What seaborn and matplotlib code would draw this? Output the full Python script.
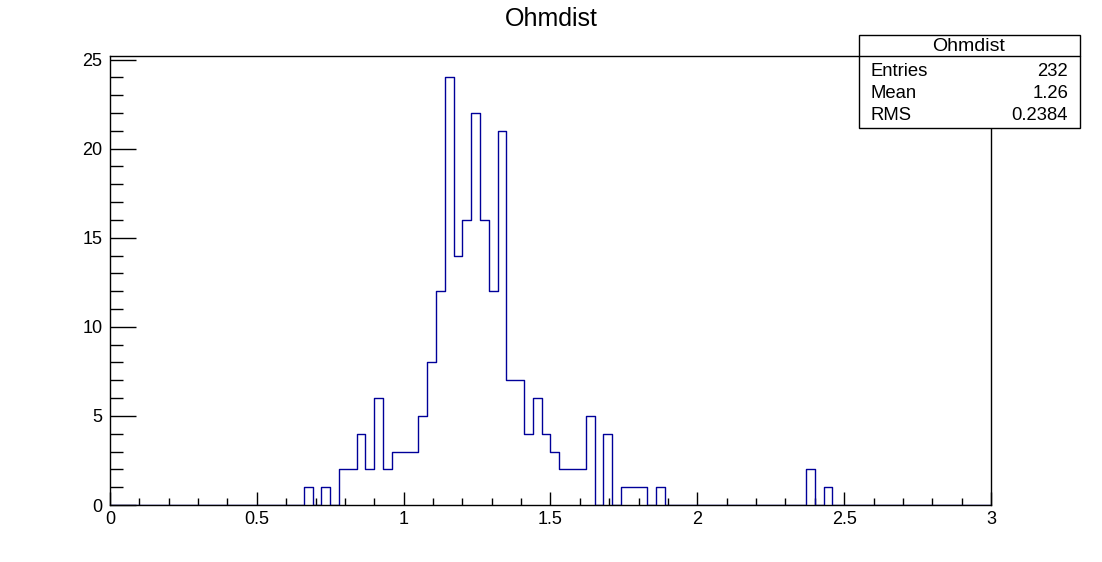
import numpy as np
import pandas as pd
import matplotlib
matplotlib.use("Agg")
import matplotlib.pyplot as plt
from matplotlib.patches import Rectangle
from matplotlib.lines import Line2D
from matplotlib.ticker import MultipleLocator, FuncFormatter
import seaborn as sns

# ---- data ----
title = "Ohmdist"
x_min, x_max, n_bins = 0.0, 3.0, 100
y_max = 25.2
bin_low = [0.66, 0.72, 0.78, 0.81, 0.84, 0.87, 0.90, 0.93, 0.96, 0.99,
           1.02, 1.05, 1.08, 1.11, 1.14, 1.17, 1.20, 1.23, 1.26, 1.29,
           1.32, 1.35, 1.38, 1.41, 1.44, 1.47, 1.50, 1.53, 1.56, 1.59,
           1.62, 1.68, 1.74, 1.77, 1.80, 1.86, 2.37, 2.43]
counts = [1, 1, 2, 2, 4, 2, 6, 2, 3, 3,
          3, 5, 8, 12, 24, 14, 16, 22, 16, 12,
          21, 7, 7, 4, 6, 4, 3, 2, 2, 2,
          5, 4, 1, 1, 1, 1, 2, 1]
stat_names = ["Entries", "Mean", "RMS"]
stat_values = ["232", "1.26", "0.2384"]
x_tick_labels = ["0", "0.5", "1", "1.5", "2", "2.5", "3"]

# ---- figure ----
sns.set_style("ticks")
plt.rcParams["font.family"] = ["Liberation Sans", "DejaVu Sans"]
plt.rcParams["text.color"] = "black"

W, H = 1102, 562
fig = plt.figure(figsize=(W / 100, H / 100), dpi=100)
fig.patch.set_facecolor("white")

def fx(px):
    return px / W

def fy(py):
    return 1 - py / H

ax = fig.add_axes([fx(110), fy(505), fx(991) - fx(110), fy(56) - fy(505)])

bin_width = (x_max - x_min) / n_bins
edges = [float(e) for e in np.linspace(x_min, x_max, n_bins + 1)]
df = pd.DataFrame({"x": np.array(bin_low) + bin_width / 2, "w": counts})
sns.histplot(data=df, x="x", weights="w", bins=edges, element="step",
             fill=False, color="#000099", linewidth=1.0, ax=ax)

ax.set_xlim(x_min, x_max)
ax.set_ylim(0, y_max)
ax.set_xlabel("")
ax.set_ylabel("")
ax.set_facecolor("white")
ax.grid(False)

for s in ax.spines.values():
    s.set_visible(True)
    s.set_color("black")
    s.set_linewidth(1.0)
    s.set_zorder(5)

ax.xaxis.set_major_locator(MultipleLocator(0.5))
ax.xaxis.set_minor_locator(MultipleLocator(0.1))
ax.yaxis.set_major_locator(MultipleLocator(5))
ax.yaxis.set_minor_locator(MultipleLocator(1))
ax.set_xticks(np.arange(0, 3.01, 0.5))
ax.set_xticklabels(x_tick_labels)
ax.yaxis.set_major_formatter(FuncFormatter(lambda v, p: f"{v:g}"))

ax.tick_params(axis="both", which="both", direction="in", top=False, right=False,
               colors="black", labelcolor="black", width=1.0, labelsize=13)
ax.tick_params(axis="x", which="major", length=9.4, pad=4.5)
ax.tick_params(axis="x", which="minor", length=4.7)
ax.tick_params(axis="y", which="major", length=18.7, pad=5.5)
ax.tick_params(axis="y", which="minor", length=9.2)

# title
fig.text(fx(551), fy(19), title, ha="center", va="center", fontsize=18, color="black")

# stats box
bl, br, bt, bb = 858.5, 1079.5, 34.5, 127.5
fig.add_artist(Rectangle((fx(bl), fy(bb)), fx(br) - fx(bl), fy(bt) - fy(bb),
                         transform=fig.transFigure, facecolor="white",
                         edgecolor="black", linewidth=1.0, zorder=10))
fig.add_artist(Line2D([fx(bl), fx(br)], [fy(56), fy(56)], transform=fig.transFigure,
                      color="black", linewidth=1.0, zorder=11))
fig.text(fx(968.5), fy(46.5), title, ha="center", va="center", fontsize=14,
         color="black", zorder=12)
row_y = [71.5, 93.5, 115.5]
for name, val, yy in zip(stat_names, stat_values, row_y):
    fig.text(fx(870), fy(yy), name, ha="left", va="center", fontsize=13.3,
             color="black", zorder=12)
    fig.text(fx(1068), fy(yy), val, ha="right", va="center", fontsize=13.3,
             color="black", zorder=12)

fig.savefig("out.png", dpi=100, facecolor="white")
